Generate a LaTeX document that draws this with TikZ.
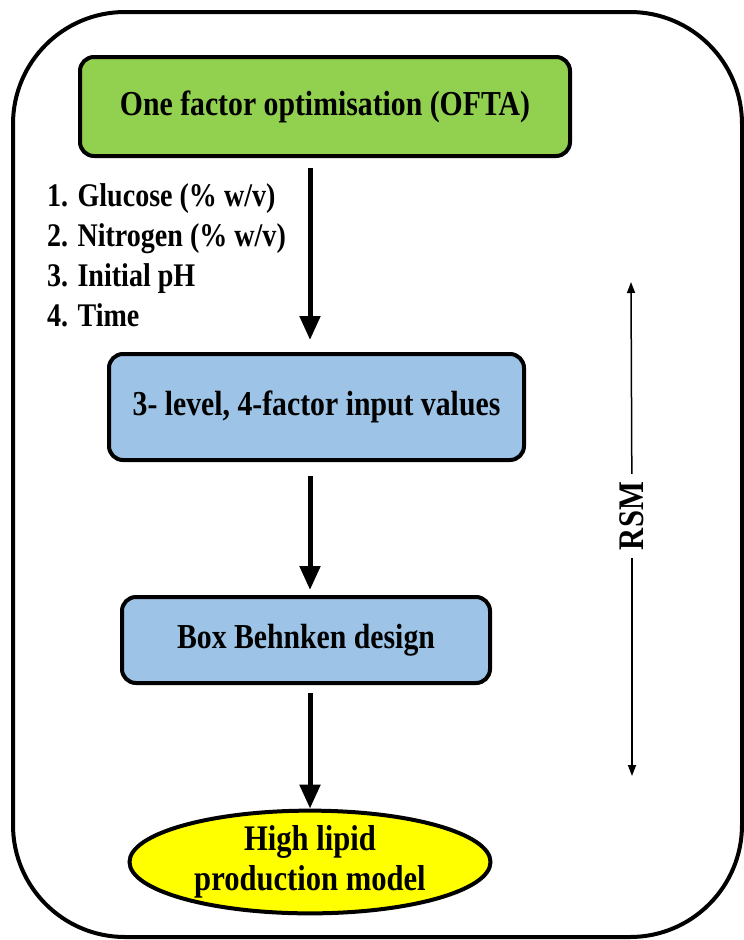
\documentclass[tikz,border=0pt]{standalone}
\usepackage{fontspec}
\setmainfont{Liberation Serif}[FakeStretch=0.85]
\usetikzlibrary{arrows.meta,positioning,shapes.geometric}
\definecolor{stagegreen}{HTML}{92D050}
\definecolor{stageblue}{HTML}{9DC3E6}
\definecolor{stageyellow}{HTML}{FFFF00}

\begin{document}
\begin{tikzpicture}[x=1pt,y=-1pt,
  stage/.style={draw,line width=4pt,rounded corners=14pt,inner sep=0pt,
    font=\fontsize{35}{40}\selectfont\bfseries},
  factor/.style={anchor=base west,inner sep=0pt,font=\fontsize{33}{38}\selectfont\bfseries},
  flow/.style={line width=5pt,-{Triangle[width=20pt,length=24pt]}},
  span/.style={line width=1.5pt,-{Triangle[width=8pt,length=11pt]}}]

  \useasboundingbox (0,0) rectangle (744,940);

  % ---- Outer frame ---------------------------------------------
  \draw[line width=4pt,rounded corners=112pt] (13,12) rectangle (742,937);

  % ---- Stages --------------------------------------------------
  \node[stage,fill=stagegreen,minimum width=490pt,minimum height=99pt]
    (ofta) at (325,106.5) {One factor optimisation (OFTA)};
  \node[stage,fill=stageblue,minimum width=415pt,minimum height=106pt]
    (levels) at (316.5,407) {3- level, 4-factor input values};
  \node[stage,fill=stageblue,minimum width=368pt,minimum height=86pt]
    (design) at (306,640) {Box Behnken design};
  \node[draw,ellipse,line width=4pt,fill=stageyellow,inner sep=0pt,
        minimum width=361pt,minimum height=73pt,align=center,
        font=\fontsize{36}{40}\selectfont\bfseries]
    (model) at (310,862) {High lipid\\production model};

  % ---- Factors -------------------------------------------------
  \node[factor] (f1) at (47,206) {1. Glucose (\% w/v)};
  \node[factor] (f2) at (47,246) {2. Nitrogen (\% w/v)};
  \node[factor] (f3) at (47,286) {3. Initial pH};
  \node[factor] (f4) at (47,326) {4. Time};

  % ---- Flow arrows ---------------------------------------------
  \coordinate (spine) at (310,0);
  \draw[flow] ([yshift=-10pt]ofta.south -| spine) -- ([yshift=12pt]levels.north -| spine);
  \draw[flow] ([yshift=-14pt]levels.south -| spine) -- ([yshift=5pt]design.north -| spine);
  \draw[flow] ([yshift=-8pt]design.south -| spine) -- (model.north);

  % ---- RSM span ------------------------------------------------
  \node[rotate=90,inner xsep=8pt,inner ysep=2pt,font=\fontsize{36}{40}\selectfont\bfseries]
    (rsm) at (632,516) {RSM};
  \coordinate (rsmtop) at (631,282);
  \coordinate (rsmbot) at (632,776);
  \draw[span] (rsm) -- (rsmtop);
  \draw[span] (rsm) -- (rsmbot);

\end{tikzpicture}
\end{document}
